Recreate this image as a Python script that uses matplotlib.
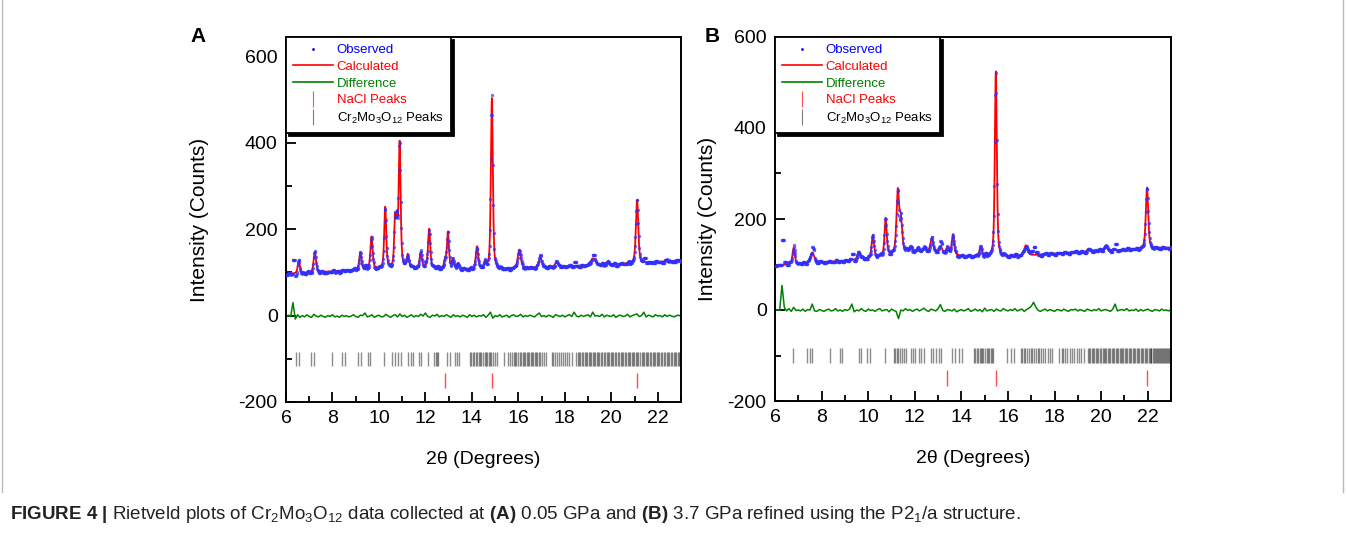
import numpy as np
import matplotlib
import matplotlib.pyplot as plt
from matplotlib.lines import Line2D
matplotlib.rcParams['font.family'] = 'Liberation Sans'
matplotlib.rcParams['mathtext.fontset'] = 'custom'
matplotlib.rcParams['mathtext.rm'] = 'Liberation Sans'
matplotlib.rcParams['mathtext.it'] = 'Liberation Sans:italic'
matplotlib.rcParams['mathtext.bf'] = 'Liberation Sans:bold'
matplotlib.rcParams['mathtext.default'] = 'rm'
matplotlib.rcParams['axes.unicode_minus'] = False

# ---------------- panel A (0.05 GPa) ----------------
bgA_x = [6, 7, 8, 9, 10, 11, 12, 13, 14, 15, 16, 17, 18, 19, 20, 21, 22, 23]
bgA_y = [96, 99, 102, 106, 108, 110, 110, 108, 107, 107, 109, 111, 114, 116, 118, 121, 124, 126]
peakA_pos = [6.55, 7.24, 9.20, 9.68, 10.27, 10.69, 10.77, 10.89, 11.24, 11.80, 12.16, 12.85, 12.97,
             13.18, 13.40, 14.22, 14.58, 14.86, 16.04, 16.95, 17.65, 19.18, 19.30, 19.85, 21.11, 22.40, 22.80]
peakA_top = [127, 147, 146, 182, 250, 215, 205, 397, 139, 146, 200, 128, 192,
             130, 120, 159, 122, 503, 152, 134, 124, 130, 128, 124, 267, 128, 128]
peakA_fwhm = [0.11, 0.12, 0.11, 0.11, 0.10, 0.08, 0.08, 0.10, 0.11, 0.11, 0.11, 0.10, 0.10,
              0.10, 0.11, 0.12, 0.11, 0.10, 0.15, 0.16, 0.16, 0.15, 0.13, 0.16, 0.12, 0.18, 0.18]
# difference (obs - calc), one value every 0.1 deg from 6.0 to 23.0
diffA = [-3, 1, -2, 30, -8, 2, -4, 0, -3, 2,
         -2, -4, 3, -1, -3, 1, -2, -4, 0, -2,
         2, -3, -1, -4, 1, -2, 0, -3, -1, 2,
         -2, -4, 1, 0, 6, -3, -1, 2, -4, -1,
         1, -3, -2, 3, -1, -4, 0, 2, -3, 4,
         -2, 1, -4, -1, 2, -3, 0, -2, 3, -1,
         6, -2, -4, 1, -1, 3, -3, 0, -2, 2,
         -1, -4, 2, -2, 0, -3, 1, -1, -4, 2,
         -2, 1, -3, 0, -1, 2, -4, 1, 8, -6,
         0, -2, 2, -3, -1, 1, -4, 0, 2, -2,
         -1, 3, -3, 0, -2, 1, -1, -3, 2, 6,
         -2, 0, -3, 1, -1, -4, 2, 0, -2, 1,
         -3, 0, 2, -2, 8, -1, -3, 1, -2, 0,
         2, -3, 8, -1, 0, -2, 3, -3, 1, -1,
         -2, 2, -4, 0, 1, -2, -1, 3, -3, 0,
         2, 4, -2, 0, 8, -3, 1, -1, -3, 2,
         -1, 0, -3, 2, -2, 1, -1, -3, 0, 1,
         -2]
naclA = [12.85, 14.88, 21.11]
crA = [6.44, 6.56, 7.07, 7.22, 7.98, 8.41, 8.52, 9.08, 9.22, 9.52, 9.62, 10.22, 10.58, 10.70, 10.80,
       10.94, 11.27, 11.38, 11.48, 11.73, 11.81, 12.13, 12.37, 12.46, 12.50, 12.54, 12.94, 13.06,
       13.27, 13.35, 13.45, 13.92, 13.98, 14.04, 14.10, 14.17, 14.22, 14.30, 14.36, 14.40, 14.47,
       14.55, 14.60, 14.66, 14.72, 14.78, 14.84, 14.92, 15.00, 15.06, 15.38, 15.54, 15.66, 15.72,
       15.80, 15.86, 15.92, 15.98, 16.05, 16.10, 16.18, 16.24, 16.30, 16.36, 16.42, 16.47, 16.53,
       16.58, 16.64, 16.70, 16.76, 16.82, 16.88, 16.95, 17.02, 17.10, 17.17, 17.43, 17.50, 17.58,
       17.66, 17.74, 17.82, 17.90, 18.00, 18.10, 18.18, 18.33, 18.50, 18.55, 18.61, 18.66, 18.72,
       18.79, 18.85, 18.90, 18.96, 19.03, 19.08, 19.14, 19.20, 19.25, 19.31, 19.38, 19.43, 19.49,
       19.55, 19.62, 19.68, 19.73, 19.80, 19.86, 19.91, 19.97, 20.04, 20.09, 20.15, 20.22, 20.27,
       20.33, 20.40, 20.45, 20.51, 20.58, 20.63, 20.70, 20.76, 20.81, 20.88, 20.94, 20.99, 21.05,
       21.12, 21.17, 21.24, 21.30, 21.35, 21.42, 21.48, 21.53, 21.60, 21.66, 21.71, 21.78, 21.84,
       21.89, 21.96, 22.02, 22.07, 22.14, 22.20, 22.25, 22.32, 22.38, 22.43, 22.50, 22.56, 22.61,
       22.68, 22.74, 22.79, 22.86, 22.92, 22.97]

# ---------------- panel B (3.7 GPa) ----------------
bgB_x = [6, 7, 8, 9, 10, 11, 11.7, 12.5, 13.3, 14, 15, 16, 17, 18, 19, 20, 21, 22, 23]
bgB_y = [98, 101, 105, 108, 113, 120, 128, 128, 125, 118, 117, 117, 120, 124, 127, 130, 132, 135, 137]
peakB_pos = [6.80, 7.60, 9.60, 10.20, 10.75, 11.27, 11.40, 11.82, 12.15, 12.40, 12.73, 13.11,
             13.40, 13.64, 14.83, 15.48, 16.77, 19.50, 20.20, 21.97]
peakB_top = [136, 126, 128, 164, 201, 258, 195, 137, 134, 134, 157, 139,
             137, 166, 138, 524, 142, 133, 141, 269]
peakB_fwhm = [0.12, 0.20, 0.13, 0.12, 0.11, 0.13, 0.13, 0.13, 0.15, 0.15, 0.14, 0.13,
              0.11, 0.12, 0.13, 0.10, 0.17, 0.18, 0.15, 0.12]
diffB = [-2, 1, -1, 54, 6, -2, 3, -3, 6, -1,
         0, -2, 2, -3, 1, 0, 13, -2, -3, 1,
         -1, -3, 0, 2, -2, -1, 3, -2, 0, -3,
         1, -1, 2, 13, -4, 0, -2, 3, -1, -3,
         2, -1, 0, -3, 1, 3, -2, 0, 1, -4,
         2, -1, -3, -19, 0, -2, 3, -1, 1, -3,
         0, 2, -2, 1, 4, -1, -3, 2, 0, -2,
         3, 12, -1, -3, 1, 0, -2, 2, -4, -1,
         1, -2, 0, 3, -3, -1, 2, -2, 1, -4,
         4, -2, 0, 1, -3, 2, -1, -2, 3, 0,
         -2, 1, -1, 3, -2, 0, 2, -3, 1, 4,
         8, 17, 6, -1, -3, 0, 2, -2, 1, -1,
         -3, 1, 0, -2, 2, -1, -3, 1, 0, 2,
         -2, 1, -1, -3, 2, 0, -2, 1, -1, 3,
         -2, 0, 1, -1, -3, 2, 13, -2, 0, 1,
         -1, 3, -2, 0, -1, 2, -3, 1, -2, 0,
         2, -1, -3, 1, 0, -2, 2, -1, 0, -2,
         1]
naclB = [13.40, 15.50, 21.99]
crB = [6.77, 7.38, 7.49, 7.59, 8.35, 8.78, 8.88, 9.60, 9.70, 9.96, 10.07, 10.74, 11.10, 11.16,
       11.22, 11.28, 11.36, 11.44, 11.52, 11.62, 11.82, 11.94, 12.03, 12.18, 12.28, 12.39, 12.68,
       12.80, 12.93, 13.04, 13.14, 13.61, 13.72, 13.90, 14.04, 14.55, 14.60, 14.66, 14.72, 14.78,
       14.83, 14.88, 14.95, 15.02, 15.08, 15.14, 15.20, 15.26, 15.32, 15.38, 15.98, 16.15, 16.26,
       16.55, 16.62, 16.68, 16.75, 16.82, 16.90, 16.98, 17.05, 17.12, 17.20, 17.27, 17.35, 17.43,
       17.52, 17.60, 17.70, 17.80, 17.90, 18.20, 18.30, 18.38, 18.47, 18.55, 18.65, 18.75, 18.85,
       18.95, 19.05, 19.15, 19.25, 19.42, 19.48, 19.54, 19.60, 19.66, 19.71, 19.77, 19.83, 19.88,
       19.94, 20.00, 20.06, 20.11, 20.17, 20.23, 20.28, 20.34, 20.40, 20.45, 20.51, 20.57, 20.62,
       20.68, 20.74, 20.79, 20.85, 20.91, 20.96, 21.02, 21.08, 21.13, 21.19, 21.25, 21.30, 21.36,
       21.42, 21.47, 21.53, 21.59, 21.64, 21.70, 21.76, 21.81, 21.87, 21.93, 21.98, 22.04, 22.08,
       22.12, 22.16, 22.21, 22.25, 22.30, 22.34, 22.39, 22.43, 22.48, 22.52, 22.57, 22.61, 22.66,
       22.70, 22.75, 22.79, 22.84, 22.88, 22.93, 22.97]


def calc_pattern(x, bg_x, bg_y, pos, top, fwhm):
    y = np.interp(x, bg_x, bg_y)
    for p, t, w in zip(pos, top, fwhm):
        amp = t - np.interp(p, bg_x, bg_y)
        u = (x - p) / (w / 2.0)
        y = y + amp * (0.5 / (1 + u**2) + 0.5 * np.exp(-np.log(2) * u**2))
    return y


def draw_panel(ax, bg_x, bg_y, pos, top, fwhm, diff, nacl, cr, ytop, ylab_x):
    x_line = np.arange(6, 23.0001, 0.005)
    x_obs = np.arange(6, 23.0001, 0.02)
    x_diff = 6 + 0.1 * np.arange(len(diff))
    calc = calc_pattern(x_line, bg_x, bg_y, pos, top, fwhm)
    d_obs = np.repeat(diff, 5)[:len(x_obs)]
    obs = calc_pattern(x_obs, bg_x, bg_y, pos, top, fwhm) + d_obs

    ax.plot(x_line, calc, color='red', lw=1.3, zorder=2)
    ax.plot(x_obs, obs, ls='none', marker='o', ms=2.4, mfc='#3030ff', mec='none', alpha=0.7, zorder=3)
    ax.plot(x_diff, diff, color='#008000', lw=1.1, zorder=2)
    ax.vlines(cr, -116, -84, color='black', alpha=0.45, lw=1.0)
    ax.vlines(nacl, -168, -132, color='red', alpha=0.7, lw=1.0)

    ax.set_xlim(6, 23)
    ax.set_ylim(-200, ytop)
    ax.set_xticks(np.arange(6, 23, 2))
    ax.set_xticks(np.arange(6, 24, 1), minor=True)
    ax.set_yticks([-200, 0, 200, 400, 600])
    ax.set_yticks(np.arange(-200, ytop, 100), minor=True)
    ax.tick_params(which='both', direction='in', top=False, right=False, labelsize=14, width=1.3)
    ax.tick_params(which='major', length=7, pad=6)
    ax.tick_params(which='minor', length=4)
    for s in ax.spines.values():
        s.set_linewidth(1.4)
    ax.set_xlabel('2θ (Degrees)', fontsize=14)
    ax.set_ylabel('Intensity (Counts)', fontsize=15)
    ax.xaxis.set_label_coords(0.5, -0.135)
    ax.yaxis.set_label_coords(ylab_x, 0.5)

    handles = [Line2D([], [], ls='none', marker='o', ms=2, mfc='blue', mec='none'),
               Line2D([], [], color='red', lw=1.2),
               Line2D([], [], color='#008000', lw=1.2),
               Line2D([], [], ls='none', marker='|', ms=11, mec='red', mew=0.8, alpha=0.7),
               Line2D([], [], ls='none', marker='|', ms=11, mec='black', mew=0.8, alpha=0.5)]
    labels = ['Observed', 'Calculated', 'Difference', 'NaCl Peaks', 'Cr$_2$Mo$_3$O$_{12}$ Peaks']
    leg = ax.legend(handles, labels, loc='upper left', bbox_to_anchor=(0, 1), borderaxespad=0,
                    fontsize=9.5, frameon=True, fancybox=False, handlelength=3.0, handletextpad=0.3,
                    labelspacing=0.33, borderpad=0.55,
                    shadow={'facecolor': 'black', 'edgecolor': 'black', 'alpha': 1})
    leg.get_frame().set_edgecolor('black')
    leg.get_frame().set_linewidth(1.3)
    for t, c in zip(leg.get_texts(), ['blue', 'red', '#008000', 'red', 'black']):
        t.set_color(c)


fig = plt.figure(figsize=(13.46, 5.35), dpi=100)
axA = fig.add_axes([286 / 1346, 1 - 402 / 535, 395 / 1346, 365 / 535])
axB = fig.add_axes([775 / 1346, 1 - 401 / 535, 396 / 1346, 364 / 535])

draw_panel(axA, bgA_x, bgA_y, peakA_pos, peakA_top, peakA_fwhm, diffA, naclA, crA, 645, -0.195)
draw_panel(axB, bgB_x, bgB_y, peakB_pos, peakB_top, peakB_fwhm, diffB, naclB, crB, 600, -0.147)

fig.text(198 / 1346, 1 - 37 / 535, 'A', fontsize=15, fontweight='bold', ha='center', va='center')
fig.text(712 / 1346, 1 - 37 / 535, 'B', fontsize=15, fontweight='bold', ha='center', va='center')

fig.add_artist(Line2D([2 / 1346, 2 / 1346], [1 - 492 / 535, 1], color='#bbbbbb', lw=1))
fig.add_artist(Line2D([1343 / 1346, 1343 / 1346], [1 - 492 / 535, 1], color='#bbbbbb', lw=1))

fig.text(10 / 1346, 1 - 519 / 535,
         r'$\mathbf{FIGURE\ 4\ |}$ Rietveld plots of Cr$_2$Mo$_3$O$_{12}$ data collected at '
         r'$\mathbf{(A)}$ 0.05 GPa and $\mathbf{(B)}$ 3.7 GPa refined using the P2$_1$/a structure.',
         fontsize=13.5, color='#222222', va='baseline')

fig.savefig('out.png', dpi=100)
